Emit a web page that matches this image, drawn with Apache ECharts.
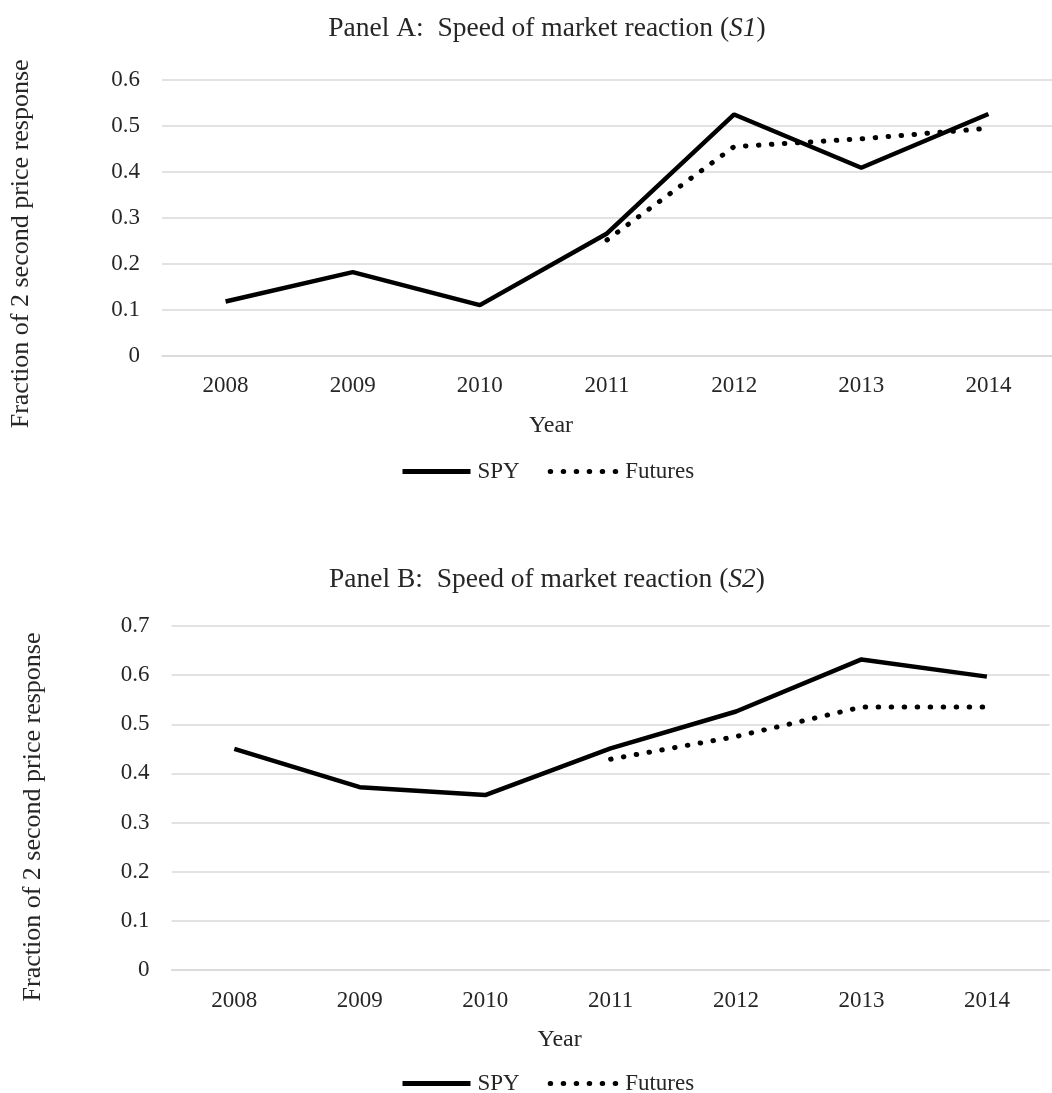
<!DOCTYPE html>
<html>
<head>
<meta charset="utf-8">
<title>Speed of market reaction</title>
<script src="https://cdn.jsdelivr.net/npm/echarts@6/dist/echarts.min.js"></script>
<style>
  html, body { margin: 0; padding: 0; background: #ffffff; }
  #chart { width: 1052px; height: 1093px; }
</style>
</head>
<body>
<div id="chart"></div>
<script>
// Years on the category axis
const years = ['2008', '2009', '2010', '2011', '2012', '2013', '2014'];

// Panel A (S1): fraction of the 2-second price response
const spyS1 = [0.118, 0.182, 0.110, 0.266, 0.525, 0.409, 0.526];
const futuresS1 = [null, null, null, 0.252, 0.455, 0.472, 0.495];

// Panel B (S2)
const spyS2 = [0.450, 0.372, 0.356, 0.451, 0.526, 0.632, 0.597];
const futuresS2 = [null, null, null, 0.429, 0.475, 0.535, 0.535];

// Tick values for the two value axes
const yTicksA = { min: 0, max: 0.6, step: 0.1 };
const yTicksB = { min: 0, max: 0.7, step: 0.1 };

const FONT = '"Liberation Serif", "Times New Roman", serif';
const TEXT = '#262626';
const GRID_LINE = '#d9d9d9';

const chart = echarts.init(document.getElementById('chart'), null, { renderer: 'canvas' });

function titleText(panel, code) {
  return '{n|Panel ' + panel + ':  Speed of market reaction (}{i|' + code + '}{n|)}';
}
const titleRich = {
  n: { fontFamily: FONT, fontSize: 27.5, color: TEXT, fontWeight: 'normal' },
  i: { fontFamily: FONT, fontSize: 27.5, color: TEXT, fontWeight: 'normal', fontStyle: 'italic' }
};

function xAxisFor(gridIndex, namePad) {
  return {
    type: 'category',
    gridIndex: gridIndex,
    data: years,
    boundaryGap: true,
    axisTick: { show: false },
    axisLine: { show: true, lineStyle: { color: GRID_LINE, width: 1.5 } },
    axisLabel: { color: TEXT, fontFamily: FONT, fontSize: 23, margin: 19 },
    name: 'Year',
    nameLocation: 'middle',
    nameGap: 58,
    nameTextStyle: { color: TEXT, fontFamily: FONT, fontSize: 24, padding: [0, namePad, 0, 0] }
  };
}

function yAxisFor(gridIndex, ticks, gap, pad) {
  return {
    type: 'value',
    gridIndex: gridIndex,
    min: ticks.min,
    max: ticks.max,
    interval: ticks.step,
    axisLine: { show: false },
    axisTick: { show: false },
    splitLine: { show: true, lineStyle: { color: GRID_LINE, width: 1.5 } },
    axisLabel: { color: TEXT, fontFamily: FONT, fontSize: 23, margin: 22 },
    name: 'Fraction of 2 second price response',
    nameLocation: 'middle',
    nameGap: gap,
    nameTextStyle: { color: TEXT, fontFamily: FONT, fontSize: 26, padding: [0, pad, 0, 0] }
  };
}

const solidStyle = { color: '#000000', width: 4.5, type: 'solid' };
const dottedStyle = { color: '#000000', width: 5, type: [0.5, 12.5], cap: 'round' };

function legendFor(top) {
  return {
    top: top,
    left: 400,
    padding: 0,
    itemWidth: 68,
    itemHeight: 14,
    itemGap: 28,
    data: ['SPY', 'Futures'],
    // only the line sample is shown, no marker in the middle
    itemStyle: { opacity: 0 },
    lineStyle: { width: 5 },
    textStyle: { color: TEXT, fontFamily: FONT, fontSize: 23, padding: [0, 0, 0, 2] }
  };
}

function lineSeries(name, data, axisIndex, style) {
  return {
    name: name,
    type: 'line',
    xAxisIndex: axisIndex,
    yAxisIndex: axisIndex,
    data: data,
    symbol: 'none',
    connectNulls: false,
    lineStyle: style,
    itemStyle: { color: '#000000' },
    silent: true,
    animation: false
  };
}

chart.setOption({
  backgroundColor: '#ffffff',
  animation: false,
  title: [
    { text: titleText('A', 'S1'), left: 547, top: 15, textAlign: 'center', padding: 0,
      textStyle: { rich: titleRich } },
    { text: titleText('B', 'S2'), left: 547, top: 566, textAlign: 'center', padding: 0,
      textStyle: { rich: titleRich } }
  ],
  legend: [legendFor(460), legendFor(1072)],
  grid: [
    { left: 161, top: 80, width: 905, height: 275.7 },
    { left: 171.6, top: 626, width: 878, height: 344 }
  ],
  xAxis: [xAxisFor(0, 112), xAxisFor(1, 102)],
  yAxis: [yAxisFor(0, yTicksA, 128, 52), yAxisFor(1, yTicksB, 125, 38)],
  series: [
    lineSeries('SPY', spyS1, 0, solidStyle),
    lineSeries('Futures', futuresS1, 0, dottedStyle),
    lineSeries('SPY', spyS2, 1, solidStyle),
    lineSeries('Futures', futuresS2, 1, dottedStyle)
  ]
});
</script>
</body>
</html>
